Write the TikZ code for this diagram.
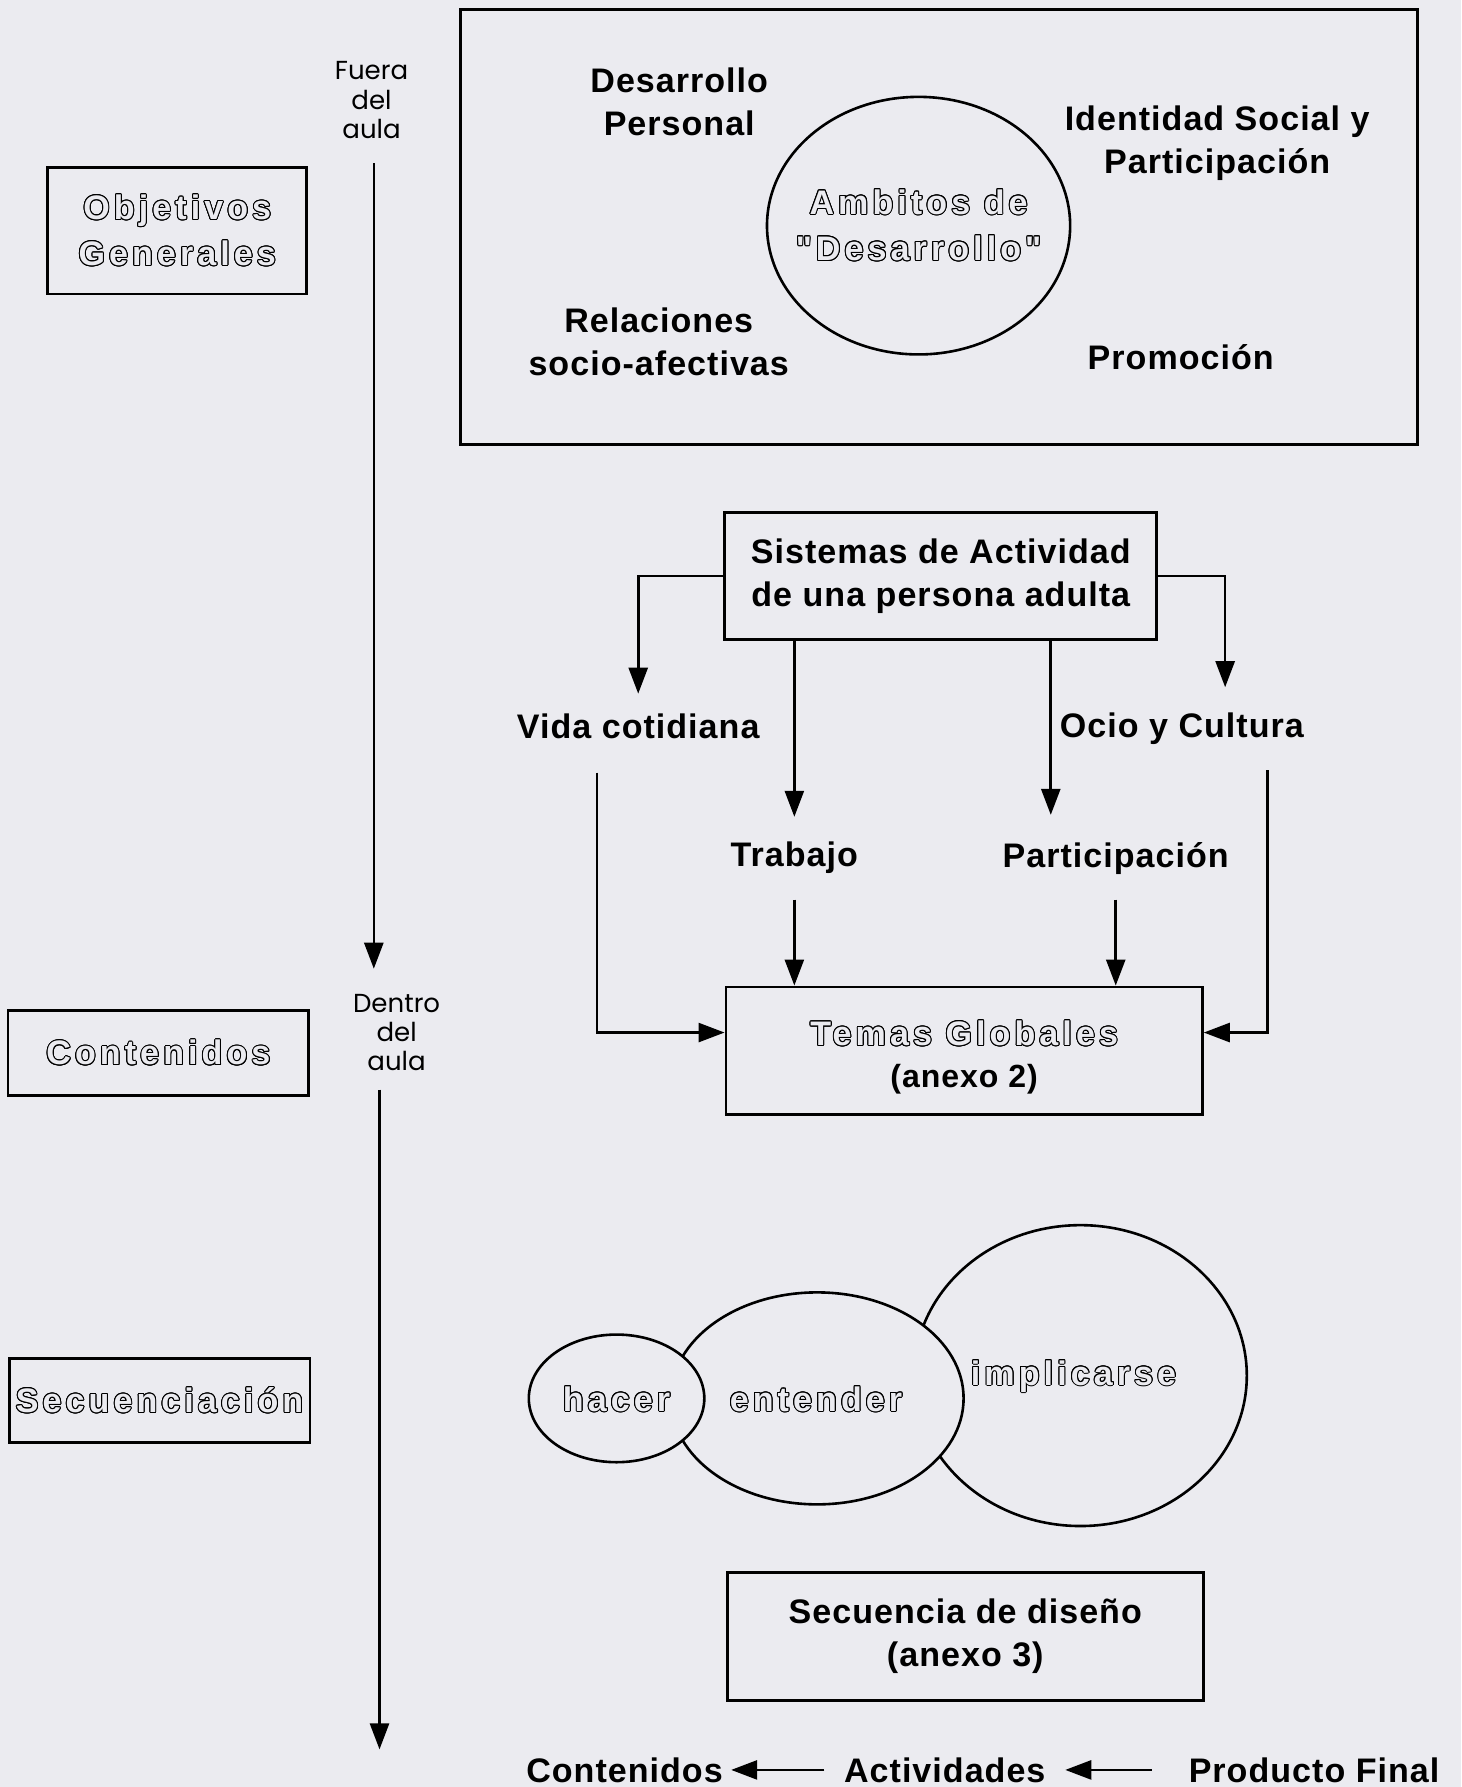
\documentclass[tikz,border=0pt]{standalone}
\usepackage{fontspec}
\usepackage{contour}
\usepackage{tikz}
\usetikzlibrary{arrows.meta,shapes.geometric,positioning}

\newfontfamily\lblfont{Liberation Sans}[LetterSpace=3]
\newfontfamily\olfont{Liberation Sans}[LetterSpace=12]
\newfontfamily\thinfont{Poppins}
\definecolor{paper}{RGB}{235,235,240}
\contourlength{0.5pt}
\newcommand{\hol}[1]{\textcolor{paper}{\contour{black}{#1}}}

\tikzset{
  box/.style={draw, line width=1.4pt, inner sep=0pt, align=center},
  txt/.style={font=\lblfont\bfseries\fontsize{17}{21.5}\selectfont, align=center, inner sep=4pt},
  hollow/.style={font=\olfont\bfseries\fontsize{17}{23}\selectfont, align=center},
  side/.style={font=\thinfont\fontsize{13}{14.7}\selectfont, align=center},
  flow/.style={line width=1.3pt, -{Triangle[length=13pt,width=9.5pt]}},
  ring/.style={draw, ellipse, line width=1.3pt, fill=paper, inner sep=0pt}
}

\begin{document}
\begin{tikzpicture}[x=0.2mm, y=-0.2mm]
\useasboundingbox (0,0) rectangle (1282,1568);
\fill[paper] (0,0) rectangle (1282,1568);

% left column
\node[box, hollow, minimum width=45.4mm, minimum height=22.2mm] (obj) at (155.5,202.5) {\hol{Objetivos}\\\hol{Generales}};
\node[box, hollow, minimum width=52.8mm, minimum height=14.8mm] (cont) at (139,924) {\hol{Contenidos}};
\node[box, hollow, minimum width=52.8mm, minimum height=14.8mm] (secu) at (140,1229) {\hol{Secuenciación}};

\node[side] (fuera) at (326,88) {Fuera\\del\\aula};
\node[side] (dentro) at (348,906) {Dentro\\del\\aula};
\coordinate (fin1) at (328,850);
\coordinate (fin2) at (333,1535);
\draw[flow, shorten <=3mm] (fuera.south -| fin1) -- (fin1);
\draw[flow, shorten <=2mm] (dentro.south -| fin2) -- (fin2);

% ambitos
\node[box, minimum width=168mm, minimum height=76.4mm] (marco) at (824,199) {};
\node[ring, minimum width=53.2mm, minimum height=45.2mm] (ambito) at (806,198) {};
\node[hollow] at (ambito) {\hol{Ambitos de}\\\hol{"Desarrollo"}};
\node[txt] (despers) at (596,89) {Desarrollo\\Personal};
\node[txt] (ident) at (1068,126) {Identidad Social y\\Participación};
\node[txt] (relac) at (578,300) {Relaciones\\socio-afectivas};
\node[txt] (promo) at (1036,313) {Promoción};

% sistemas de actividad
\node[box, txt, minimum width=75.8mm, minimum height=22.2mm] (sist) at (825.5,505.5) {Sistemas de Actividad\\de una persona adulta};
\node[txt] (vida) at (560,637) {Vida cotidiana};
\node[txt] (ocio) at (1037,639) {Ocio y Cultura};
\node[txt] (trab) at (697,753) {Trabajo};
\node[txt] (part) at (979,753) {Participación};
\node[box, minimum width=83.6mm, minimum height=22.4mm] (temas) at (846,922) {};
\node[hollow] at (846,928) {\hol{Temas Globales}\\[-2pt]{\lblfont\fontsize{16}{20}\selectfont(anexo 2)}};

\coordinate (ocioIn) at (1075,603);
\coordinate (partIn) at (922,715);
\coordinate (vidaOut) at (524,678);
\coordinate (ocioOut) at (1112,676);

\draw[flow, shorten >=2mm] (sist.west) -| (vida.north);
\draw[flow] (sist.east) -| (ocioIn);
\draw[flow, shorten >=3mm] (trab.north |- sist.south) -- (trab.north);
\draw[flow] (partIn |- sist.south) -- (partIn);
\draw[flow] (vidaOut) |- ([yshift=3.2mm]temas.west);
\draw[flow] (ocioOut) |- ([yshift=3.2mm]temas.east);
\draw[flow, shorten <=3mm] (trab.south) -- (trab.south |- temas.north);
\draw[flow, shorten <=3mm] (part.south) -- (part.south |- temas.north);

% secuencia
\node[ring, minimum width=58.4mm, minimum height=52.8mm] (impl) at (948,1207) {};
\node[ring, minimum width=51.4mm, minimum height=37.2mm] (ent) at (717,1227) {};
\node[ring, minimum width=30.8mm, minimum height=22.4mm] (hac) at (541,1227) {};
\node[hollow] at (942,1208) {\hol{implicarse}};
\node[hollow] at (716,1228) {\hol{entender}};
\node[hollow] at (541,1228) {\hol{hacer}};

\node[box, txt, minimum width=83.6mm, minimum height=22.4mm] (disen) at (847,1436) {Secuencia de diseño\\(anexo 3)};

\node[txt] (contb) at (548,1553) {Contenidos};
\node[txt] (activ) at (829,1553) {Actividades};
\node[txt] (prod) at (1153,1553) {Producto Final};
\draw[flow, shorten <=2mm] (activ.west) -- (contb.east);
\draw[flow, shorten <=5mm, shorten >=2mm] (prod.west) -- (activ.east);
\end{tikzpicture}
\end{document}
